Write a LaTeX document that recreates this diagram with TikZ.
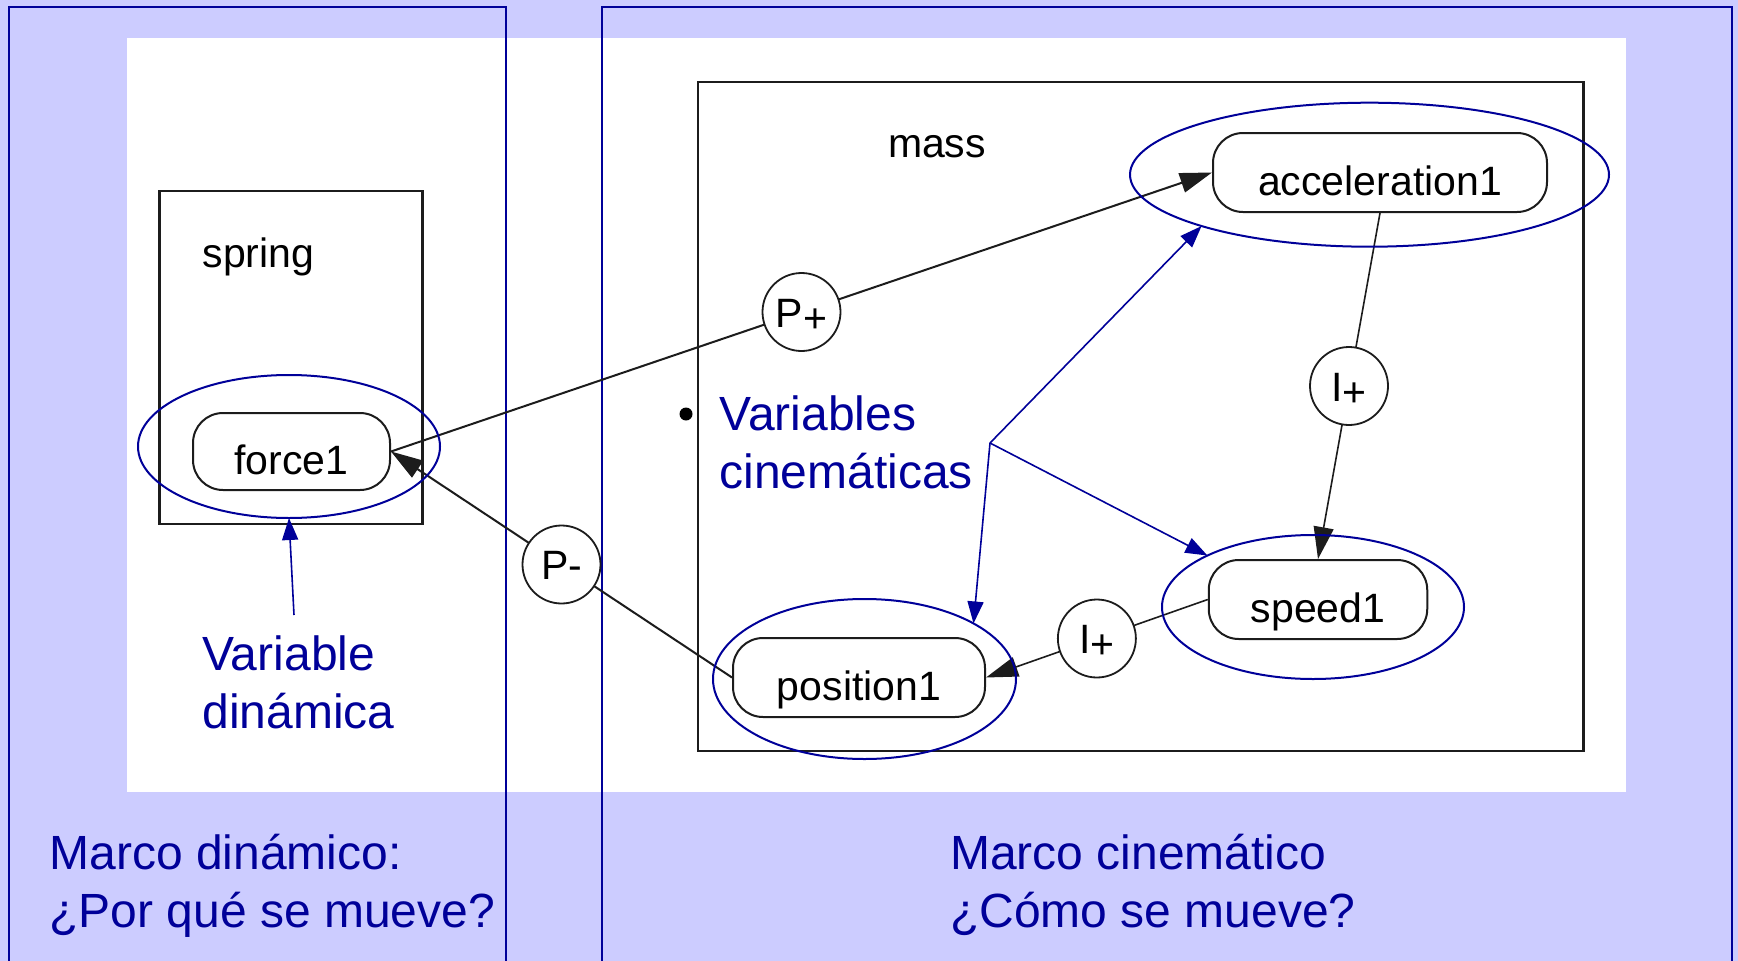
\documentclass[tikz,border=0pt]{standalone}
\usepackage{fontspec}
\setmainfont{Liberation Sans}
\usetikzlibrary{shapes.geometric,arrows.meta}
\definecolor{lav}{RGB}{204,204,255}
\definecolor{navy}{RGB}{0,0,153}
\definecolor{ink}{RGB}{28,28,28}
\tikzset{
  gfont/.style={font=\fontsize{41}{49}\selectfont},
  bfont/.style={font=\fontsize{48}{58}\selectfont, text=navy},
  qvar/.style={draw=ink, line width=2pt, rounded corners=30pt, inner sep=0pt,
    gfont, text height=46pt, text depth=0pt},
  infl/.style={circle, draw=ink, line width=1.8pt, fill=white, minimum size=78pt,
    inner sep=0pt, gfont, text height=30pt, text depth=0pt},
  link/.style={draw=ink, line width=2pt, -{Triangle[length=32pt,width=20pt]}},
  thinlink/.style={link, line width=1.6pt},
  hl/.style={ellipse, draw=navy, line width=2pt, inner sep=0pt, outer sep=0pt},
  pointer/.style={draw=navy, line width=1.6pt, -{Triangle[length=22pt,width=16pt]}},
  panelframe/.style={draw=navy, line width=2pt},
  modbox/.style={draw=ink, line width=2.5pt},
}
\begin{document}
\begin{tikzpicture}[x=1pt, y=-1pt]
  \useasboundingbox (0,0) rectangle (1738,961);
  \clip (0,0) rectangle (1738,961);

  % slide background and the white graph panel
  \fill[lav] (0,0) rectangle (1738,961);
  \fill[white] (127,38) rectangle (1626,792);

  % the two frames
  \draw[panelframe] (9,6.7) rectangle (506,990);
  \draw[panelframe] (602,6.7) rectangle (1732,990);

  % model fragments
  \draw[modbox] (159.5,191) rectangle (422.5,524);
  \draw[modbox] (698,82) rectangle (1583.5,751);
  \node[gfont, anchor=base west] (springlbl) at (199,267) {spring};
  \node[gfont, anchor=base west] (masslbl) at (884.5,157) {mass};

  % quantities
  \node[qvar, minimum width=197pt, minimum height=77pt] (force) at (291.5,451.5) {force1};
  \node[qvar, minimum width=334pt, minimum height=79pt] (acc) at (1380,172.5) {acceleration1};
  \node[qvar, minimum width=218.5pt, minimum height=79pt] (speed) at (1318,599.5) {speed1};
  \node[qvar, minimum width=252pt, minimum height=79pt] (pos) at (859,677.5) {position1};

  % influences and proportionalities
  \draw[link] (force.east) -- node[infl] (pplus) {P\raisebox{-5pt}{+}} (acc.west);
  \draw[link] (pos.west) -- node[infl] (pminus) {P-} (force.east);
  \draw[thinlink] (acc.south) -- node[infl] (iacc) {I\raisebox{-5pt}{+}} (speed.north);
  \draw[thinlink] (speed.west) -- node[infl] (ispeed) {I\raisebox{-5pt}{+}} (pos.east);

  % highlighted variables
  \node[hl, minimum width=302pt, minimum height=143pt] (fell) at (289,446.5) {};
  \node[hl, minimum width=479pt, minimum height=144pt] (aell) at (1369.5,174.7) {};
  \node[hl, minimum width=302pt, minimum height=144pt] (sell) at (1313,607) {};
  \node[hl, minimum width=303pt, minimum height=160pt] (pell) at (864.5,679) {};

  % annotations
  \coordinate (dyntail) at (294,615);
  \coordinate (kinhub) at (990,443);
  \draw[pointer] (dyntail) -- (fell.270);
  \draw[pointer] (kinhub) -- (aell.197);
  \draw[pointer] (kinhub) -- (pell.27.7);
  \draw[pointer] (kinhub) -- (sell.154.9);

  % multi-line labels are anchored on the baseline of their last line
  \node[bfont, anchor=base west, align=left] (dynlbl) at (199,728) {Variable\\dinámica};
  \node[circle, fill=black, minimum size=13pt, inner sep=0pt] (bullet) at (686,414) {};
  \node[bfont, anchor=base west, align=left] (kinlbl) at (716,488) {Variables\\cinemáticas};

  \node[bfont, anchor=base west, align=left] (dyntitle) at (46,927) {Marco dinámico:\\¿Por qué se mueve?};
  \node[bfont, anchor=base west, align=left] (kintitle) at (946.5,927) {Marco cinemático\\¿Cómo se mueve?};
\end{tikzpicture}
\end{document}
